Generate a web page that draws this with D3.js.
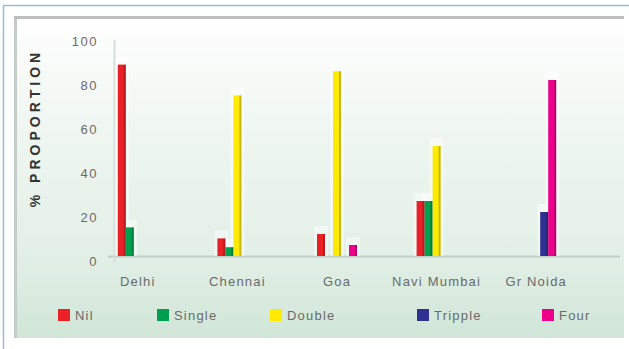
<!DOCTYPE html>
<html>
<head>
<meta charset="utf-8">
<script src="https://cdn.jsdelivr.net/npm/d3@7"></script>
<style>
  html, body { margin: 0; padding: 0; background: #fff; }
  svg { display: block; font-family: "Liberation Sans", Arial, sans-serif; }
</style>
</head>
<body>
<svg id="chart" width="629" height="349"></svg>
<script>
// cities along the x axis
const cities = ['Delhi', 'Chennai', 'Goa', 'Navi Mumbai', 'Gr Noida'];

// series names and colours (legend order)
const series = ['Nil', 'Single', 'Double', 'Tripple', 'Four'];
const colors = ['#ea2027', '#00a04f', '#ffea00', '#2e3092', '#ec008c'];

// % proportion per city, one array per series (0 = no bar)
const nil     = [87,  8, 10, 25,  0];
const single  = [13,  4,  0, 25,  0];
const double  = [ 0, 73, 84, 50,  0];
const tripple = [ 0,  0,  0,  0, 20];
const four    = [ 0,  0,  5,  0, 80];
const values = [nil, single, double, tripple, four];

const yTicks = [0, 20, 40, 60, 80, 100];

const svg = d3.select('#chart');

// background gradient for the panel
const defs = svg.append('defs');
const grad = defs.append('linearGradient')
    .attr('id', 'bg').attr('x1', 0).attr('y1', 0).attr('x2', 0).attr('y2', 1);
grad.append('stop').attr('offset', '0%').attr('stop-color', '#ffffff');
grad.append('stop').attr('offset', '30%').attr('stop-color', '#f1f7f2');
grad.append('stop').attr('offset', '75%').attr('stop-color', '#e2efe6');
grad.append('stop').attr('offset', '100%').attr('stop-color', '#d0e6d7');

// outer light blue frame
svg.append('rect')
    .attr('x', 3.5).attr('y', 5.5).attr('width', 700).attr('height', 400)
    .attr('fill', '#fff').attr('stroke', '#9dbad6').attr('stroke-width', 1.5);

// chart panel
svg.append('rect')
    .attr('x', 14).attr('y', 17).attr('width', 610).attr('height', 321)
    .attr('fill', 'url(#bg)');
svg.append('rect')
    .attr('x', 14).attr('y', 16).attr('width', 610).attr('height', 3)
    .attr('fill', '#bdbdbd');
svg.append('rect')
    .attr('x', 14).attr('y', 19).attr('width', 3).attr('height', 319)
    .attr('fill', '#c4ccc7');

const y = d3.scaleLinear().domain([0, 100]).range([256, 36]);
const x = d3.scaleBand().domain(cities).range([88, 586]);
const xs = d3.scaleBand().domain(series).range([-20, 20]);

// baseline + left axis line
svg.append('line')
    .attr('x1', 108).attr('x2', 620).attr('y1', y(0) + 0.5).attr('y2', y(0) + 0.5)
    .attr('stroke', '#c3cdc7').attr('stroke-width', 2);
svg.append('line')
    .attr('x1', 114.5).attr('x2', 114.5).attr('y1', 40).attr('y2', 262)
    .attr('stroke', '#d6ddd9').attr('stroke-width', 2);

// y axis labels
const yAxis = svg.append('g')
    .attr('transform', 'translate(98,5)')
    .call(d3.axisLeft(y).tickValues(yTicks).tickSize(0).tickPadding(0));
yAxis.select('.domain').remove();
yAxis.selectAll('text')
    .attr('fill', '#6a6a6a')
    .style('font-size', '13px').style('letter-spacing', '1.5px');

// y axis title
svg.append('text')
    .attr('transform', 'translate(40,128) rotate(-90)')
    .attr('text-anchor', 'middle')
    .attr('fill', '#333')
    .style('font-size', '14px').style('font-weight', 'bold')
    .style('letter-spacing', '4px')
    .text('% PROPORTION');

// bars
const bars = [];
cities.forEach(function (c, i) {
    series.forEach(function (s, j) {
        if (values[j][i] > 0) bars.push({ city: c, series: s, color: colors[j], value: values[j][i] });
    });
});

const g = svg.append('g');
g.selectAll('rect.halo')
    .data(bars)
    .enter().append('rect')
    .attr('class', 'halo')
    .attr('x', d => x(d.city) + x.bandwidth() / 2 + xs(d.series) - 3)
    .attr('y', d => y(d.value) - 8)
    .attr('width', xs.bandwidth() + 6)
    .attr('height', d => y(0) - y(d.value) + 8)
    .attr('fill', '#ffffff').attr('opacity', 0.45);

g.selectAll('rect.bar')
    .data(bars)
    .enter().append('rect')
    .attr('class', 'bar')
    .attr('x', d => x(d.city) + x.bandwidth() / 2 + xs(d.series))
    .attr('y', d => y(d.value))
    .attr('width', xs.bandwidth())
    .attr('height', d => y(0) - y(d.value))
    .attr('fill', d => d.color);

// darker right edge for the shaded look
g.selectAll('rect.shade')
    .data(bars)
    .enter().append('rect')
    .attr('class', 'shade')
    .attr('x', d => x(d.city) + x.bandwidth() / 2 + xs(d.series) + xs.bandwidth() - 2)
    .attr('y', d => y(d.value))
    .attr('width', 2)
    .attr('height', d => y(0) - y(d.value))
    .attr('fill', '#000').attr('opacity', 0.22);

// category labels
svg.selectAll('text.cat')
    .data(cities)
    .enter().append('text')
    .attr('class', 'cat')
    .attr('x', d => x(d) + x.bandwidth() / 2)
    .attr('y', 286)
    .attr('text-anchor', 'middle')
    .attr('fill', '#6a6a6a')
    .style('font-size', '13px').style('letter-spacing', '1.2px')
    .text(d => d);

// legend (uneven spacing, as in the original)
const legendX = [58, 157, 270, 417, 542];
const legend = svg.selectAll('g.legend')
    .data(series)
    .enter().append('g')
    .attr('class', 'legend')
    .attr('transform', (d, i) => 'translate(' + legendX[i] + ',309)');
legend.append('rect')
    .attr('width', 12).attr('height', 12)
    .attr('fill', (d, i) => colors[i]);
legend.append('text')
    .attr('x', 17).attr('y', 11)
    .attr('fill', '#6a6a6a')
    .style('font-size', '13px').style('letter-spacing', '1.2px')
    .text(d => d);
</script>
</body>
</html>
